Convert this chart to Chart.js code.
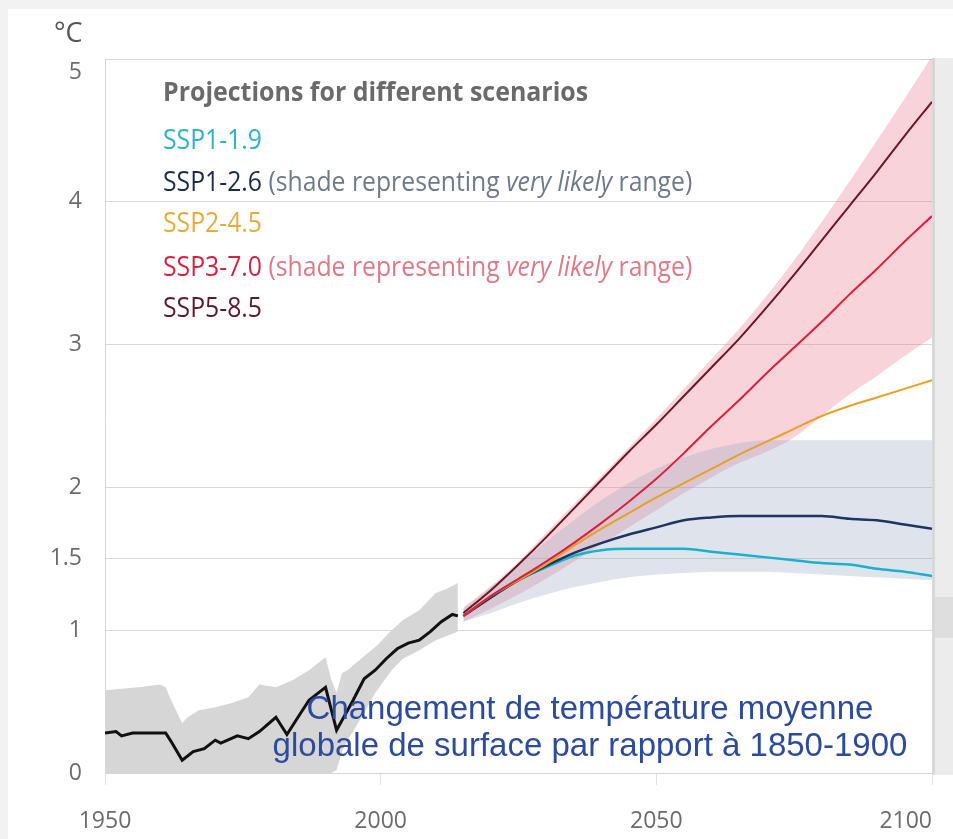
<!DOCTYPE html>
<html lang="fr">
<head>
<meta charset="utf-8">
<title>Projections pour différents scénarios</title>
<script src="https://cdn.jsdelivr.net/npm/chart.js@4.4.1/dist/chart.umd.min.js"></script>
<style>
  html, body { margin: 0; padding: 0; background: #f2f2f2; }
  #wrap { position: relative; width: 953px; height: 839px; overflow: hidden; }
  #panel { position: absolute; left: 8px; top: 9px; right: 0; bottom: 0; background: #fff; }
  #chart { position: absolute; left: 0; top: 0; }
  .unit { position: absolute; left: 54px; top: 17px; font: 27px/30px "Open Sans", sans-serif; color: #555; }
  .lg { position: absolute; left: 163px; font: 27px/30px "Open Sans", sans-serif; white-space: nowrap; transform-origin: 0 0; }
  .lg.title { font-weight: 700; color: #6a6a6a; }
  .caption { position: absolute; left: 240px; width: 700px; top: 689px; text-align: center;
             font: 33px/37px "Liberation Sans", Arial, sans-serif; color: #2c4b9c; }
</style>
</head>
<body>
<div id="wrap">
  <div id="panel"></div>
  <canvas id="chart" width="953" height="839"></canvas>
  <div class="unit">°C</div>
  <div class="lg title" data-w="425" style="top:76px">Projections for different scenarios</div>
  <div class="lg" style="top:124px;color:#2bb3c6">SSP1-1.9</div>
  <div class="lg" data-w="529" style="top:166px"><span style="color:#1d2a4a">SSP1-2.6</span> <span style="color:#6d7a8c">(shade representing <i>very likely</i> range)</span></div>
  <div class="lg" style="top:207px;color:#e8ab3a">SSP2-4.5</div>
  <div class="lg" style="top:251px"><span style="color:#d8213f">SSP3-7.0</span> <span style="color:#e27886">(shade representing <i>very likely</i> range)</span></div>
  <div class="lg" style="top:292px;color:#5e1a28">SSP5-8.5</div>
  <div class="caption">Changement de température moyenne<br>globale de surface par rapport à 1850-1900</div>
</div>

<script>
// ── Data ───────────────────────────────────────────────────────
const histYears = [1950, 1952, 1953, 1955, 1958, 1961, 1962, 1964, 1966, 1968, 1970, 1971, 1974, 1976, 1978, 1981,
                   1983, 1985, 1987, 1990, 1992, 1995, 1997, 1999, 2001, 2003, 2005, 2007, 2009, 2011, 2013, 2014];
const histTemp  = [0.28, 0.29, 0.26, 0.28, 0.28, 0.28, 0.22, 0.09, 0.15, 0.17, 0.23, 0.21, 0.26, 0.24, 0.29, 0.39,
                   0.27, 0.39, 0.51, 0.60, 0.30, 0.51, 0.66, 0.72, 0.80, 0.87, 0.91, 0.93, 0.99, 1.06, 1.11, 1.10];

const histBandYears = [1950, 1956, 1960, 1961, 1962, 1964, 1965, 1967, 1970, 1973, 1976, 1978, 1981, 1984, 1987,
                       1990, 1991, 1992, 1993, 1994, 1997, 1999, 2002, 2004, 2007, 2010, 2012, 2014];
const histHigh = [0.58, 0.60, 0.62, 0.60, 0.51, 0.35, 0.39, 0.44, 0.46, 0.49, 0.53, 0.62, 0.60, 0.65, 0.72,
                  0.81, 0.66, 0.56, 0.70, 0.72, 0.82, 0.88, 1.00, 1.07, 1.14, 1.26, 1.29, 1.33];
const histLow  = [0, 0, 0, 0, 0, 0, 0, 0, 0, 0, 0, 0, 0, 0, 0,
                  0, 0, 0.02, 0.15, 0.23, 0.42, 0.56, 0.72, 0.80, 0.86, 0.93, 0.96, 0.99];

const projYears = [2015, 2020, 2025, 2030, 2035, 2040, 2045, 2050, 2055, 2060, 2065, 2070, 2075, 2080, 2085, 2090, 2095, 2100];
const ssp119 = [1.10, 1.23, 1.35, 1.44, 1.52, 1.56, 1.57, 1.57, 1.57, 1.55, 1.53, 1.51, 1.49, 1.47, 1.46, 1.43, 1.41, 1.38];
const ssp126 = [1.10, 1.23, 1.35, 1.45, 1.54, 1.61, 1.67, 1.72, 1.77, 1.79, 1.80, 1.80, 1.80, 1.80, 1.78, 1.77, 1.74, 1.71];
const ssp245 = [1.10, 1.24, 1.35, 1.46, 1.59, 1.71, 1.82, 1.93, 2.03, 2.13, 2.23, 2.32, 2.41, 2.50, 2.57, 2.63, 2.69, 2.75];
const ssp370 = [1.10, 1.24, 1.36, 1.48, 1.61, 1.75, 1.90, 2.06, 2.24, 2.43, 2.61, 2.80, 2.98, 3.16, 3.35, 3.53, 3.72, 3.90];
const ssp585 = [1.12, 1.28, 1.46, 1.65, 1.85, 2.05, 2.25, 2.44, 2.64, 2.84, 3.04, 3.26, 3.49, 3.73, 3.97, 4.21, 4.46, 4.70];

// very likely ranges
const ssp126Low  = [1.06, 1.12, 1.19, 1.25, 1.30, 1.34, 1.37, 1.39, 1.40, 1.41, 1.41, 1.41, 1.40, 1.39, 1.38, 1.37, 1.36, 1.35];
const ssp126High = [1.15, 1.30, 1.46, 1.62, 1.77, 1.91, 2.03, 2.13, 2.21, 2.27, 2.31, 2.33, 2.33, 2.33, 2.33, 2.33, 2.33, 2.33];
const ssp370Low  = [1.06, 1.15, 1.25, 1.36, 1.48, 1.60, 1.72, 1.84, 1.96, 2.07, 2.17, 2.25, 2.35, 2.50, 2.65, 2.78, 2.92, 3.05];
const ssp370High = [1.16, 1.31, 1.48, 1.68, 1.88, 2.08, 2.28, 2.48, 2.69, 2.90, 3.11, 3.34, 3.59, 3.86, 4.14, 4.43, 4.72, 5.02];

const xTicks = [1950, 2000, 2050, 2100];
const yTicks = [0, 1, 1.5, 2, 3, 4, 5];

// ── Helpers ────────────────────────────────────────────────────
const pts = (xs, ys) => xs.map((x, i) => ({ x, y: ys[i] }));
const line = (label, xs, ys, color, width, smooth = true) => ({
  label, data: pts(xs, ys), borderColor: color, borderWidth: width,
  pointRadius: 0, fill: false, order: 0,
  cubicInterpolationMode: smooth ? "monotone" : "default",
});
const band = (label, xs, ys, fill, color, order, smooth = true) => ({
  label, data: pts(xs, ys), borderWidth: 0, borderColor: "transparent",
  pointRadius: 0, fill, backgroundColor: color, order,
  cubicInterpolationMode: smooth ? "monotone" : "default",
});

// grey strip of the neighbouring panel on the right
const rightStrip = {
  id: "rightStrip",
  beforeDraw(chart) {
    const { ctx, chartArea: a, width } = chart;
    ctx.save();
    ctx.fillStyle = "#ececec";
    ctx.fillRect(a.right, a.top - 1, width - a.right, a.bottom - a.top + 3);
    ctx.fillStyle = "#d8d8d8";
    ctx.fillRect(a.right, a.top - 1, 3, a.bottom - a.top + 3);
    ctx.fillStyle = "#dedede";
    ctx.fillRect(a.right + 3, a.bottom - 176, width - a.right - 3, 41);
    ctx.restore();
  },
};

const tickFont = { family: "'Open Sans', sans-serif", size: 23 };

new Chart(document.getElementById("chart"), {
  type: "line",
  data: {
    datasets: [
      line("SSP5-8.5", projYears, ssp585, "#6e1526", 2),
      line("SSP3-7.0", projYears, ssp370, "#db1f3c", 2),
      line("SSP2-4.5", projYears, ssp245, "#e8a025", 2),
      line("SSP1-2.6", projYears, ssp126, "#1f3461", 2.5),
      line("SSP1-1.9", projYears, ssp119, "#1ab0cf", 2.5),
      line("Observé", histYears, histTemp, "#111111", 3, false),
      band("SSP3-7.0 haut", projYears, ssp370High, "+1", "rgba(232,112,132,0.3)", 6),
      band("SSP3-7.0 bas", projYears, ssp370Low, false, "transparent", 6),
      band("SSP1-2.6 haut", projYears, ssp126High, "+1", "rgba(148,165,192,0.3)", 5),
      band("SSP1-2.6 bas", projYears, ssp126Low, false, "transparent", 5),
      band("Obs haut", histBandYears, histHigh, "+1", "#d6d6d6", 7, false),
      band("Obs bas", histBandYears, histLow, false, "transparent", 7, false),
    ],
  },
  plugins: [rightStrip],
  options: {
    responsive: false,
    animation: false,
    events: [],
    layout: { padding: { top: 59, right: 21, left: 0, bottom: 0 } },
    plugins: { legend: { display: false }, tooltip: { enabled: false } },
    scales: {
      x: {
        type: "linear",
        min: 1950,
        max: 2100,
        afterBuildTicks: (s) => { s.ticks = xTicks.map((v) => ({ value: v })); },
        afterFit: (s) => { s.height = 66; s.paddingLeft = 0; s.paddingRight = 0; },
        ticks: {
          font: tickFont, color: "#6b6b6b", padding: 23, maxRotation: 0, autoSkip: false,
          callback: (v) => (v === 2100 ? "2100\u2007\u2007\u2007\u2007" : String(v)),
        },
        grid: { drawOnChartArea: false, drawTicks: true, tickLength: 12, color: "#e2e2e2" },
        border: { color: "#d6d6d6" },
      },
      y: {
        min: 0,
        max: 5,
        afterBuildTicks: (s) => { s.ticks = yTicks.map((v) => ({ value: v })); },
        afterFit: (s) => { s.width = 105; },
        ticks: {
          font: tickFont, color: "#6b6b6b", padding: 23, autoSkip: false,
          // the top label sits a little below its gridline in the original
          callback: (v) => (v === 5 ? ["", "5"] : String(v)),
        },
        grid: { drawTicks: false, color: "#d9d9d9" },
        border: { color: "#d6d6d6" },
      },
    },
  },
});

// ── Fit legend lines to the reference widths ──────────────────
document.fonts.ready.then(() => {
  const lines = document.querySelectorAll(".lg");
  const ref = document.querySelector(".lg[data-w='529']");
  const k = 529 / ref.getBoundingClientRect().width;
  lines.forEach((el) => {
    const w = el.dataset.w === "425" ? 425 / el.getBoundingClientRect().width : k;
    el.style.transform = `scaleX(${w.toFixed(3)})`;
  });
});
</script>
</body>
</html>
